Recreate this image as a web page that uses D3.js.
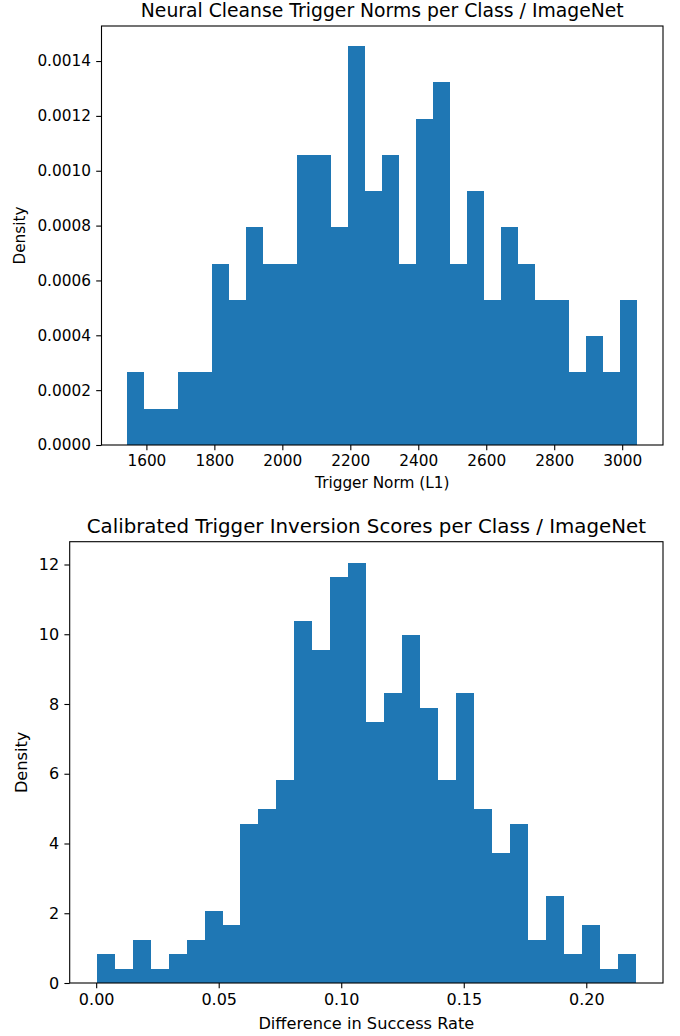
<!DOCTYPE html>
<html>
<head>
<meta charset="utf-8">
<script src="https://cdn.jsdelivr.net/npm/d3@7"></script>
<style>
	body { margin: 0; background: #fff; }
	svg { display: block; font-family: "DejaVu Sans", sans-serif; }
</style>
</head>
<body>
<script>
// ************************************************************************************
// DATA
// ************************************************************************************
// neural cleanse : 30 bins, counts per bin
var normRange  = [1543, 3045]
  , normCounts = [2, 1, 1, 2, 2, 5, 4, 6, 5, 5, 8, 8, 6, 11, 7, 8, 5, 9, 10, 5, 7, 4, 6, 5, 4, 4, 2, 3, 2, 4]
  , normXTicks = [1600, 1800, 2000, 2200, 2400, 2600, 2800, 3000]
  , normYTicks = [0, 0.0002, 0.0004, 0.0006, 0.0008, 0.0010, 0.0012, 0.0014]

// calibrated scores : 30 bins, counts per bin
var scoreRange  = [0.0002, 0.2203]
  , scoreCounts = [2, 1, 3, 1, 2, 3, 5, 4, 11, 12, 14, 25, 23, 28, 29, 18, 20, 24, 19, 14, 20, 12, 9, 11, 3, 6, 2, 4, 1, 2]
  , scoreXTicks = [0, 0.05, 0.10, 0.15, 0.20]
  , scoreYTicks = [0, 2, 4, 6, 8, 10, 12]

// ************************************************************************************
// GLOBAL VARIABLES
// ************************************************************************************
var W = 680, H = 1036
  , color = '#1f77b4'
  , tickLen = 5.3, tickPad = 5.3
  , svg = d3.select('body').append('svg').attr('width', W).attr('height', H)

// ************************************************************************************
// HISTOGRAM
// ************************************************************************************
function hist (o) {
	var n = o.counts.length
	  , total = d3.sum(o.counts)
	  , w = (o.range[1] - o.range[0]) / n
	  , bins = o.counts.map(function (c, i) {
			return { x0: o.range[0] + i*w, x1: o.range[0] + (i+1)*w, d: c / (total*w) }
		})
	  , pad = (o.range[1] - o.range[0]) * 0.05
	  , x = d3.scaleLinear().domain([o.range[0] - pad, o.range[1] + pad]).range([o.left, o.right])
	  , y = d3.scaleLinear().domain([0, d3.max(bins, function (b) { return b.d }) * 1.05]).range([o.bottom, o.top])
	  , g = svg.append('g')

	g.selectAll('rect.bar').data(bins).enter().append('rect')
		.attr('class', 'bar')
		.attr('x', function (b) { return Math.round(x(b.x0)) })
		.attr('width', function (b) { return Math.round(x(b.x1)) - Math.round(x(b.x0)) })
		.attr('y', function (b) { return Math.round(y(b.d)) })
		.attr('height', function (b) { return Math.round(o.bottom) - Math.round(y(b.d)) })
		.attr('fill', color)
		.attr('shape-rendering', 'crispEdges')

	var xa = g.append('g').attr('transform', 'translate(0,' + o.bottom + ')')
		.call(d3.axisBottom(x).tickValues(o.xTicks).tickFormat(o.xFmt).tickSizeOuter(0).tickSize(tickLen).tickPadding(tickPad))
	var ya = g.append('g').attr('transform', 'translate(' + o.left + ',0)')
		.call(d3.axisLeft(y).tickValues(o.yTicks).tickFormat(o.yFmt).tickSizeOuter(0).tickSize(tickLen).tickPadding(tickPad))
	;[xa, ya].forEach(function (a) {
		a.select('.domain').remove()
		a.selectAll('line').attr('stroke', '#000').attr('stroke-width', 1.1)
		a.selectAll('text').attr('font-size', o.tickSize).attr('fill', '#000').attr('font-family', 'DejaVu Sans')
	})

	// frame
	g.append('rect')
		.attr('x', o.left).attr('y', o.top)
		.attr('width', o.right - o.left).attr('height', o.bottom - o.top)
		.attr('fill', 'none').attr('stroke', '#000').attr('stroke-width', 1.1)

	var cx = (o.left + o.right) / 2
	g.append('text').attr('x', cx).attr('y', o.top - 9.2)
		.attr('text-anchor', 'middle').attr('font-size', o.titleSize).text(o.title)
	g.append('text').attr('x', cx).attr('y', o.bottom + o.xLabelDy)
		.attr('text-anchor', 'middle').attr('font-size', o.labelSize).text(o.xLabel)
	g.append('text')
		.attr('transform', 'translate(' + o.yLabelX + ',' + ((o.top + o.bottom)/2) + ') rotate(-90)')
		.attr('text-anchor', 'middle').attr('font-size', o.labelSize).text('Density')
}

// ************************************************************************************
// MAIN SCRIPT
// ************************************************************************************
hist({
	range: normRange, counts: normCounts, xTicks: normXTicks, yTicks: normYTicks
  , xFmt: d3.format('d'), yFmt: d3.format('.4f')
  , left: 101.5, right: 663, top: 26, bottom: 445, yLabelX: 25, xLabelDy: 43
  , titleSize: 18.8, labelSize: 15.3, tickSize: 15.3
  , title: 'Neural Cleanse Trigger Norms per Class / ImageNet'
  , xLabel: 'Trigger Norm (L1)'
})

hist({
	range: scoreRange, counts: scoreCounts, xTicks: scoreXTicks, yTicks: scoreYTicks
  , xFmt: d3.format('.2f'), yFmt: d3.format('d')
  , left: 69.7, right: 663, top: 541.7, bottom: 983, yLabelX: 27, xLabelDy: 46
  , titleSize: 19.8, labelSize: 16.2, tickSize: 16
  , title: 'Calibrated Trigger Inversion Scores per Class / ImageNet'
  , xLabel: 'Difference in Success Rate'
})
</script>
</body>
</html>
